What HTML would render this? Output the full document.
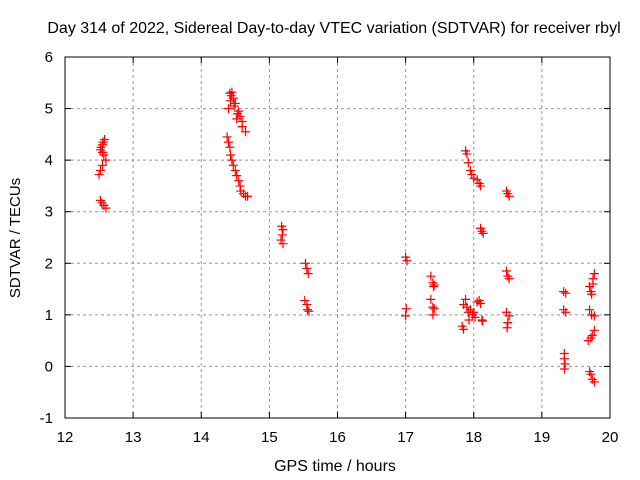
<!DOCTYPE html>
<html><head><meta charset="utf-8"><style>
body{margin:0;background:#fff}
svg{display:block;font-family:"Liberation Sans",sans-serif}
</style></head><body>
<svg id="chart" width="640" height="480">
<text x="334" y="33" text-anchor="middle" font-size="16">Day 314 of 2022, Sidereal Day-to-day VTEC variation (SDTVAR) for receiver rbyl</text>
<text x="335" y="471" text-anchor="middle" font-size="16">GPS time / hours</text>
<text transform="translate(20,238) rotate(-90)" text-anchor="middle" font-size="15">SDTVAR / TECUs</text>
<g id="grid"></g><g id="ticks"></g><g id="pts"></g>
<rect x="65" y="57" width="545" height="361" fill="none" stroke="#000"/>
</svg>
<script>
const xTicks=[12,13,14,15,16,17,18,19,20];
const yTicks=[-1,0,1,2,3,4,5,6];
const xs=[12.58,12.56,12.55,12.53,12.52,12.55,12.57,12.6,12.55,12.52,12.5,12.52,12.54,12.57,12.6,
14.42,14.45,14.44,14.47,14.43,14.5,14.48,14.4,14.55,14.53,14.57,14.52,14.6,14.6,14.65,
14.38,14.4,14.42,14.43,14.45,14.47,14.5,14.52,14.55,14.57,14.58,14.62,14.65,14.68,
15.18,15.2,15.19,15.17,15.2,15.53,15.55,15.57,15.52,15.55,15.56,15.58,
17.0,17.02,17.01,17.0,17.37,17.4,17.42,17.41,17.37,17.4,17.42,17.4,
17.88,17.9,17.92,17.95,17.97,18.0,18.05,18.08,18.1,18.1,18.12,18.14,
17.85,17.88,17.9,17.92,17.95,17.98,18.0,18.02,18.05,18.08,18.1,18.12,18.13,17.83,17.85,17.93,
18.48,18.5,18.52,18.48,18.5,18.52,18.48,18.52,18.5,18.49,
19.32,19.35,19.32,19.35,19.33,19.33,19.34,19.33,
19.7,19.72,19.73,19.75,19.77,19.75,19.7,19.73,19.77,19.77,19.74,19.72,19.68,19.7,19.72,19.74,19.77];
const ys=[4.4,4.35,4.3,4.25,4.2,4.15,4.1,4.0,3.9,3.8,3.72,3.22,3.17,3.12,3.07,
5.3,5.32,5.25,5.2,5.15,5.1,5.05,5.0,4.95,4.9,4.85,4.8,4.75,4.65,4.55,
4.45,4.35,4.25,4.1,4.0,3.9,3.8,3.7,3.6,3.5,3.4,3.35,3.3,3.3,
2.72,2.65,2.55,2.45,2.38,2.0,1.9,1.8,1.28,1.2,1.1,1.07,
2.12,2.05,1.12,0.98,1.75,1.62,1.58,1.55,1.3,1.15,1.12,1.0,
4.18,4.12,3.95,3.8,3.72,3.65,3.62,3.55,3.5,2.68,2.62,2.58,
1.2,1.3,1.15,1.05,1.1,1.0,1.05,0.95,1.25,1.28,1.22,0.9,0.88,0.78,0.72,0.9,
3.4,3.35,3.3,1.85,1.75,1.7,1.05,0.98,0.85,0.75,
1.45,1.42,1.1,1.05,0.25,0.15,0.05,-0.05,
1.55,1.45,1.4,1.6,1.8,1.7,1.1,1.0,0.98,0.7,0.6,0.55,0.5,-0.1,-0.15,-0.25,-0.3];
const X=v=>65+(v-12)*545/8, Y=v=>418-(v+1)*361/7;
const NS="http://www.w3.org/2000/svg";
function mk(t,a,p){const e=document.createElementNS(NS,t);for(const k in a)e.setAttribute(k,a[k]);p.appendChild(e);return e;}
const g=document.getElementById('grid'),tk=document.getElementById('ticks'),pg=document.getElementById('pts');
xTicks.forEach(v=>{const x=X(v);
 if(v>12&&v<20){const l=mk('line',{x1:x,x2:x,y1:57,y2:418,stroke:'#999','stroke-dasharray':'3,3'},g);
 
 }
 mk('line',{x1:x,x2:x,y1:418,y2:412,stroke:'#000'},tk);mk('line',{x1:x,x2:x,y1:57,y2:63,stroke:'#000'},tk);
 const t=mk('text',{x:x,y:442,'text-anchor':'middle','font-size':15},tk);t.textContent=v;
 
 });
yTicks.forEach(v=>{const y=Y(v);
 if(v>-1&&v<6){const l=mk('line',{x1:65,x2:610,y1:y,y2:y,stroke:'#999','stroke-dasharray':'3,3'},g);
 
 }
 mk('line',{x1:65,x2:71,y1:y,y2:y,stroke:'#000'},tk);mk('line',{x1:604,x2:610,y1:y,y2:y,stroke:'#000'},tk);
 const t=mk('text',{x:53,y:y+5,'text-anchor':'end','font-size':15},tk);t.textContent=v;
 
 });
xs.forEach((v,i)=>{const x=X(v),y=Y(ys[i]);
 const p=mk('path',{d:`M${x-4.5},${y}h9M${x},${y-4.5}v9`,stroke:'#f00','stroke-width':1.2,fill:'none'},pg);
 
 });
</script>
</body></html>
